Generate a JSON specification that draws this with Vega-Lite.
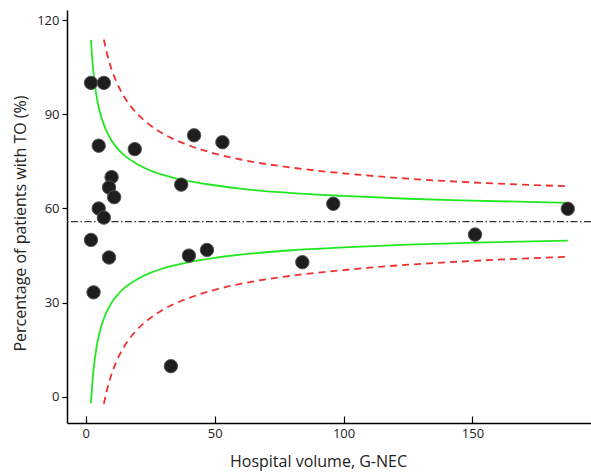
{
  "$schema": "https://vega.github.io/schema/vega-lite/v6.json",
  "autosize": "none",
  "padding": {"left": 67, "top": 10, "right": 0, "bottom": 52},
  "width": 524,
  "height": 413,
  "background": "white",
  "config": {
    "view": {"stroke": null},
    "font": "Open Sans",
    "axis": {
      "grid": false,
      "domainColor": "#000000",
      "domainWidth": 1.5,
      "tickColor": "#000000",
      "tickWidth": 1.2,
      "labelFont": "Open Sans",
      "labelFontSize": 13,
      "labelColor": "#222222",
      "titleFont": "Open Sans",
      "titleFontSize": 16,
      "titleFontWeight": "normal",
      "titleColor": "#222222"
    }
  },
  "datasets": {
    "points": [
      {"volume": 2, "pct": 100},
      {"volume": 7, "pct": 100},
      {"volume": 5, "pct": 80},
      {"volume": 19, "pct": 78.9},
      {"volume": 42, "pct": 83.3},
      {"volume": 53, "pct": 81.1},
      {"volume": 10, "pct": 70},
      {"volume": 9, "pct": 66.7},
      {"volume": 11, "pct": 63.6},
      {"volume": 37, "pct": 67.6},
      {"volume": 5, "pct": 60},
      {"volume": 7, "pct": 57.1},
      {"volume": 96, "pct": 61.5},
      {"volume": 187, "pct": 59.9},
      {"volume": 2, "pct": 50},
      {"volume": 9, "pct": 44.4},
      {"volume": 3, "pct": 33.3},
      {"volume": 40, "pct": 45},
      {"volume": 47, "pct": 46.8},
      {"volume": 84, "pct": 42.9},
      {"volume": 151, "pct": 51.7},
      {"volume": 33, "pct": 9.8}
    ],
    "green": [
      {"n": 2, "y": 113.6, "side": "upper"},
      {"n": 2.5, "y": 107.5, "side": "upper"},
      {"n": 3, "y": 103.0, "side": "upper"},
      {"n": 4, "y": 96.6, "side": "upper"},
      {"n": 5, "y": 92.3, "side": "upper"},
      {"n": 6, "y": 89.1, "side": "upper"},
      {"n": 7, "y": 86.7, "side": "upper"},
      {"n": 8, "y": 84.7, "side": "upper"},
      {"n": 10, "y": 81.6, "side": "upper"},
      {"n": 12, "y": 79.4, "side": "upper"},
      {"n": 15, "y": 76.9, "side": "upper"},
      {"n": 20, "y": 74.1, "side": "upper"},
      {"n": 25, "y": 72.1, "side": "upper"},
      {"n": 30, "y": 70.7, "side": "upper"},
      {"n": 40, "y": 68.7, "side": "upper"},
      {"n": 50, "y": 67.4, "side": "upper"},
      {"n": 60, "y": 66.3, "side": "upper"},
      {"n": 80, "y": 64.9, "side": "upper"},
      {"n": 100, "y": 64.0, "side": "upper"},
      {"n": 125, "y": 63.1, "side": "upper"},
      {"n": 150, "y": 62.5, "side": "upper"},
      {"n": 187, "y": 61.8, "side": "upper"},
      {"n": 2, "y": -2.0, "side": "lower"},
      {"n": 2.5, "y": 4.1, "side": "lower"},
      {"n": 3, "y": 8.6, "side": "lower"},
      {"n": 4, "y": 15.0, "side": "lower"},
      {"n": 5, "y": 19.3, "side": "lower"},
      {"n": 6, "y": 22.5, "side": "lower"},
      {"n": 7, "y": 24.9, "side": "lower"},
      {"n": 8, "y": 26.9, "side": "lower"},
      {"n": 10, "y": 30.0, "side": "lower"},
      {"n": 12, "y": 32.2, "side": "lower"},
      {"n": 15, "y": 34.7, "side": "lower"},
      {"n": 20, "y": 37.5, "side": "lower"},
      {"n": 25, "y": 39.5, "side": "lower"},
      {"n": 30, "y": 40.9, "side": "lower"},
      {"n": 40, "y": 42.9, "side": "lower"},
      {"n": 50, "y": 44.3, "side": "lower"},
      {"n": 60, "y": 45.3, "side": "lower"},
      {"n": 80, "y": 46.7, "side": "lower"},
      {"n": 100, "y": 47.6, "side": "lower"},
      {"n": 125, "y": 48.5, "side": "lower"},
      {"n": 150, "y": 49.1, "side": "lower"},
      {"n": 187, "y": 49.8, "side": "lower"}
    ],
    "red": [
      {"n": 7, "y": 113.8, "side": "upper"},
      {"n": 8, "y": 110.1, "side": "upper"},
      {"n": 9, "y": 107.0, "side": "upper"},
      {"n": 10, "y": 104.3, "side": "upper"},
      {"n": 12, "y": 100.1, "side": "upper"},
      {"n": 15, "y": 95.4, "side": "upper"},
      {"n": 20, "y": 90.1, "side": "upper"},
      {"n": 25, "y": 86.5, "side": "upper"},
      {"n": 30, "y": 83.8, "side": "upper"},
      {"n": 40, "y": 80.1, "side": "upper"},
      {"n": 50, "y": 77.5, "side": "upper"},
      {"n": 60, "y": 75.6, "side": "upper"},
      {"n": 80, "y": 73.0, "side": "upper"},
      {"n": 100, "y": 71.2, "side": "upper"},
      {"n": 125, "y": 69.5, "side": "upper"},
      {"n": 150, "y": 68.3, "side": "upper"},
      {"n": 186, "y": 67.1, "side": "upper"},
      {"n": 7, "y": -2.2, "side": "lower"},
      {"n": 8, "y": 1.5, "side": "lower"},
      {"n": 9, "y": 4.6, "side": "lower"},
      {"n": 10, "y": 7.3, "side": "lower"},
      {"n": 12, "y": 11.5, "side": "lower"},
      {"n": 15, "y": 16.2, "side": "lower"},
      {"n": 20, "y": 21.5, "side": "lower"},
      {"n": 25, "y": 25.1, "side": "lower"},
      {"n": 30, "y": 27.8, "side": "lower"},
      {"n": 40, "y": 31.5, "side": "lower"},
      {"n": 50, "y": 34.1, "side": "lower"},
      {"n": 60, "y": 36.0, "side": "lower"},
      {"n": 80, "y": 38.6, "side": "lower"},
      {"n": 100, "y": 40.4, "side": "lower"},
      {"n": 125, "y": 42.1, "side": "lower"},
      {"n": 150, "y": 43.3, "side": "lower"},
      {"n": 186, "y": 44.6, "side": "lower"}
    ],
    "mean": [{"y": 55.8}]
  },
  "layer": [
    {
      "data": {"name": "mean"},
      "mark": {"type": "rule", "color": "#333333", "strokeWidth": 1.3, "strokeDash": [7, 2.5, 1.5, 2.5]},
      "encoding": {
        "y": {
          "field": "y", "type": "quantitative",
          "scale": {"domain": [-8.3, 123.2], "nice": false, "zero": false},
          "axis": {
            "values": [0, 30, 60, 90, 120],
            "tickSize": 5,
            "labelPadding": 3,
            "title": "Percentage of patients with TO (%)",
            "titleX": -47,
            "titleY": 213,
            "titleAngle": -90,
            "titleBaseline": "middle",
            "titleAlign": "center"
          }
        }
      }
    },
    {
      "data": {"name": "green"},
      "mark": {"type": "line", "color": "#22e822", "strokeWidth": 1.8, "interpolate": "monotone"},
      "encoding": {
        "x": {
          "field": "n", "type": "quantitative",
          "scale": {"domain": [-7.3, 196], "nice": false, "zero": false},
          "axis": {
            "values": [0, 50, 100, 150],
            "tickSize": -7,
            "labelPadding": 11,
            "title": "Hospital volume, G-NEC",
            "titleX": 251,
            "titleY": 38,
            "titleBaseline": "middle",
            "titleAlign": "center"
          }
        },
        "y": {"field": "y", "type": "quantitative"},
        "detail": {"field": "side"}
      }
    },
    {
      "data": {"name": "red"},
      "mark": {"type": "line", "color": "#f03030", "strokeWidth": 1.8, "strokeDash": [7, 5], "interpolate": "monotone"},
      "encoding": {
        "x": {"field": "n", "type": "quantitative"},
        "y": {"field": "y", "type": "quantitative"},
        "detail": {"field": "side"}
      }
    },
    {
      "data": {"name": "points"},
      "mark": {"type": "circle", "size": 180, "color": "#1e1e1e", "opacity": 1, "stroke": "#555555", "strokeWidth": 1},
      "encoding": {
        "x": {"field": "volume", "type": "quantitative"},
        "y": {"field": "pct", "type": "quantitative"}
      }
    }
  ]
}
